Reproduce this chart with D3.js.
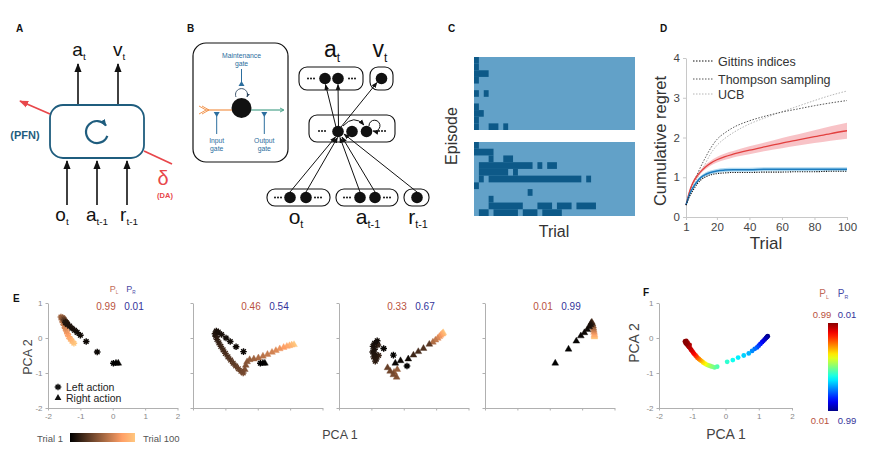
<!DOCTYPE html>
<html lang="en">
<head>
<meta charset="UTF-8" />
<title>Meta-RL figure</title>
<style>
  body { margin: 0; background: #fff; }
  svg { display: block; font-family: "Liberation Sans", Arial, sans-serif; }
</style>
</head>
<body>
<script src="https://d3js.org/d3.v7.min.js"></script>
<script>
// ---------- data ----------
// C: dark cells per episode row, as [first, last] trial runs
const trialCount = 33;
const episodesTop = [
  [[0, 0]], [[0, 0]], [[0, 2]], [[0, 0]], [], [[0, 0], [2, 2]], [],
  [[0, 0]], [[0, 1]], [[0, 0]], [[0, 0], [3, 4], [6, 6]]
];
const episodesBottom = [
  [[0, 0]], [[0, 3]], [[3, 3], [6, 7]], [[1, 11], [13, 13], [15, 16]],
  [[1, 6], [8, 8]], [[1, 1], [3, 21], [23, 23]], [[0, 0]], [[11, 11]],
  [[3, 3]], [[3, 9], [13, 15], [17, 19], [21, 24]], [[1, 2], [4, 8], [10, 12], [14, 17]]
];

// D: cumulative regret
const regretTrials = [1, 3, 5, 8, 10, 13, 16, 20, 25, 30, 40, 50, 60, 70, 80, 90, 100];
const gittins  = [0.3, 0.5, 0.65, 0.84, 0.93, 1.01, 1.06, 1.09, 1.11, 1.12, 1.12, 1.13, 1.13, 1.14, 1.14, 1.15, 1.15];
const thompson = [0.3, 0.6, 0.82, 1.08, 1.26, 1.5, 1.72, 1.95, 2.12, 2.25, 2.42, 2.54, 2.64, 2.72, 2.8, 2.87, 2.93];
const ucb      = [0.3, 0.55, 0.75, 0.98, 1.12, 1.35, 1.58, 1.8, 1.98, 2.12, 2.34, 2.5, 2.65, 2.79, 2.93, 3.06, 3.17];
const netRed   = [0.3, 0.62, 0.84, 1.04, 1.14, 1.26, 1.35, 1.44, 1.52, 1.58, 1.68, 1.77, 1.86, 1.94, 2.02, 2.1, 2.17];
const netRedSd = [0.01, 0.03, 0.04, 0.05, 0.05, 0.06, 0.06, 0.07, 0.08, 0.08, 0.1, 0.11, 0.13, 0.14, 0.16, 0.18, 0.2];
const netBlue  = [0.3, 0.55, 0.72, 0.9, 0.99, 1.07, 1.12, 1.16, 1.18, 1.19, 1.19, 1.2, 1.2, 1.2, 1.2, 1.2, 1.2];
const netBlueSd = [0.01, 0.02, 0.03, 0.04, 0.04, 0.05, 0.05, 0.05, 0.05, 0.05, 0.05, 0.05, 0.05, 0.05, 0.05, 0.05, 0.05];
const regretTicksX = [1, 20, 40, 60, 80, 100];
const regretTicksY = [0, 1, 2, 3, 4];

// E: [trial, PCA 1, PCA 2, action]
const pLeft = [0.99, 0.46, 0.33, 0.01];
const pRight = [0.01, 0.54, 0.67, 0.99];
const e1Points = [
  [1, 0.02, -0.72, "L"], [2, 0.1, -0.72, "R"], [3, 0.17, -0.72, "R"],
  [4, -0.48, -0.4, "L"], [5, -0.82, -0.1, "L"], [6, -1.0, 0.08, "L"],
  [7, -1.1, 0.16, "L"], [8, -1.18, 0.22, "L"], [9, -1.26, 0.28, "L"],
  [10, -1.33, 0.34, "L"], [11, -1.4, 0.39, "L"], [12, -1.46, 0.44, "L"],
  [15, -1.45, 0.45, "L"], [20, -1.42, 0.42, "L"], [25, -1.47, 0.48, "L"],
  [30, -1.5, 0.52, "L"], [35, -1.44, 0.44, "L"], [40, -1.52, 0.55, "L"],
  [45, -1.55, 0.58, "L"], [50, -1.6, 0.6, "L"], [55, -1.57, 0.52, "L"],
  [60, -1.54, 0.44, "L"], [65, -1.5, 0.36, "L"], [70, -1.47, 0.28, "L"],
  [75, -1.43, 0.2, "L"], [80, -1.4, 0.12, "L"], [85, -1.36, 0.04, "L"],
  [90, -1.31, -0.03, "L"], [95, -1.26, -0.09, "L"], [100, -1.2, -0.15, "L"]
];
const e2Points = [
  [1, 0.08, -0.72, "L"], [2, 0.16, -0.72, "R"], [3, 0.22, -0.72, "R"],
  [4, -0.44, -0.39, "L"], [5, -0.67, -0.25, "L"], [6, -0.85, -0.1, "L"],
  [7, -0.98, 0.0, "L"], [8, -1.12, 0.1, "L"], [9, -1.22, 0.17, "L"], [10, -1.28, 0.2, "L"],
  [12, -1.32, 0.12, "L"], [14, -1.3, 0.05, "L"], [16, -1.26, -0.04, "L"], [18, -1.2, -0.14, "L"],
  [20, -1.14, -0.24, "L"], [22, -1.07, -0.34, "L"], [24, -1.0, -0.44, "L"], [26, -0.92, -0.54, "L"],
  [28, -0.84, -0.63, "L"], [30, -0.76, -0.72, "L"], [32, -0.68, -0.8, "L"], [34, -0.6, -0.88, "L"],
  [36, -0.52, -0.95, "L"], [38, -0.45, -1.0, "L"],
  [40, -0.4, -0.9, "R"], [42, -0.37, -0.78, "R"], [44, -0.33, -0.68, "R"], [47, -0.25, -0.62, "R"],
  [50, -0.12, -0.6, "R"], [54, 0.02, -0.57, "R"], [58, 0.16, -0.52, "R"], [62, 0.3, -0.47, "R"],
  [66, 0.44, -0.41, "R"], [70, 0.56, -0.36, "R"], [75, 0.68, -0.31, "R"], [80, 0.8, -0.27, "R"],
  [85, 0.9, -0.24, "R"], [90, 0.98, -0.22, "R"], [95, 1.05, -0.2, "R"], [100, 1.12, -0.19, "R"]
];
const e3Points = [
  [1, 0.1, -0.8, "L"], [2, -0.32, -0.49, "L"], [3, -0.62, -0.3, "L"],
  [4, -0.26, -0.72, "R"], [5, -0.1, -0.65, "R"], [6, 0.14, -0.6, "R"],
  [7, -0.82, -0.08, "L"], [8, -0.9, -0.15, "L"], [9, -0.95, -0.24, "L"], [10, -0.9, -0.32, "L"],
  [11, -0.96, -0.4, "L"], [12, -0.88, -0.47, "L"], [13, -0.93, -0.54, "L"], [14, -0.85, -0.6, "L"],
  [15, -0.88, -0.66, "L"], [16, -0.8, -0.2, "L"], [18, -0.78, -0.5, "L"],
  [20, 0.3, -0.49, "R"], [23, 0.45, -0.39, "R"], [26, 0.61, -0.3, "R"], [29, 0.79, -0.18, "R"],
  [33, -0.5, -0.85, "R"], [36, -0.42, -0.95, "R"], [39, -0.32, -1.05, "R"], [42, -0.22, -1.12, "R"],
  [45, -0.3, -0.98, "R"], [48, -0.2, -0.9, "R"],
  [55, 0.9, -0.12, "R"], [62, 0.98, -0.06, "R"], [69, 1.05, -0.01, "R"], [76, 1.1, 0.04, "R"],
  [83, 1.14, 0.08, "R"], [90, 1.18, 0.11, "R"], [95, 1.2, 0.13, "R"], [100, 1.22, 0.15, "R"]
];
const e4Points = [
  [1, 0.17, -0.72, "R"], [2, 0.58, -0.32, "R"], [3, 0.82, -0.09, "R"], [4, 0.96, 0.06, "R"],
  [5, 1.07, 0.15, "R"], [6, 1.16, 0.24, "R"], [8, 1.22, 0.32, "R"], [10, 1.26, 0.38, "R"],
  [15, 1.28, 0.43, "R"], [25, 1.3, 0.45, "R"], [35, 1.32, 0.4, "R"], [45, 1.34, 0.34, "R"],
  [55, 1.35, 0.28, "R"], [65, 1.36, 0.22, "R"], [75, 1.37, 0.16, "R"], [85, 1.38, 0.1, "R"],
  [92, 1.38, 0.06, "R"], [100, 1.38, 0.03, "R"]
];
const ePanels = [e1Points, e2Points, e3Points, e4Points];

// F: [PCA 1, PCA 2, P_L]
const fPoints = [
  [-1.22, -0.1, 0.99], [-1.2, -0.14, 0.99], [-1.18, -0.08, 0.98], [-1.17, -0.18, 0.98],
  [-1.14, -0.13, 0.97], [-1.13, -0.22, 0.96], [-1.1, -0.26, 0.95], [-1.08, -0.2, 0.95],
  [-1.06, -0.3, 0.93], [-1.03, -0.34, 0.92], [-1.0, -0.38, 0.9], [-0.97, -0.42, 0.88],
  [-0.94, -0.46, 0.86], [-0.9, -0.5, 0.83], [-0.87, -0.53, 0.8], [-0.84, -0.57, 0.77],
  [-0.8, -0.6, 0.74], [-0.76, -0.63, 0.71], [-0.72, -0.66, 0.68], [-0.67, -0.7, 0.65],
  [-0.62, -0.73, 0.62], [-0.57, -0.76, 0.58], [-0.52, -0.78, 0.55], [-0.46, -0.8, 0.52],
  [-0.4, -0.82, 0.5], [-0.33, -0.84, 0.47], [-0.25, -0.82, 0.45],
  [0.05, -0.68, 0.42], [0.22, -0.63, 0.39], [0.38, -0.56, 0.36], [0.55, -0.5, 0.33],
  [0.7, -0.44, 0.3], [0.8, -0.37, 0.26], [0.88, -0.31, 0.23], [0.95, -0.27, 0.2],
  [1.0, -0.22, 0.17], [1.05, -0.17, 0.14], [1.1, -0.12, 0.11], [1.14, -0.08, 0.08],
  [1.18, -0.04, 0.06], [1.22, 0.0, 0.04], [1.25, 0.03, 0.02], [1.27, 0.05, 0.01]
];
const pcaTicksX = [-2, -1, 0, 1, 2];
const pcaTicksY = [-2, -1, 0, 1];

// ---------- setup ----------
const navy = "#1f5d7e";
const redC = "#e8474b";
const leftCol = "#b9523e", rightCol = "#34349a";

const svg = d3.select("body").append("svg").attr("width", 880).attr("height", 456);
const defs = svg.append("defs");

function arrowMarker(id, color, size) {
  defs.append("marker").attr("id", id)
    .attr("viewBox", "0 0 10 10").attr("refX", 9).attr("refY", 5)
    .attr("markerUnits", "userSpaceOnUse")
    .attr("markerWidth", size).attr("markerHeight", size)
    .attr("orient", "auto")
    .append("path").attr("d", "M0,1L10,5L0,9z").attr("fill", color);
}
arrowMarker("arrA", "#111", 9);
arrowMarker("arrRed", redC, 9);
arrowMarker("arrNavy", navy, 7);
arrowMarker("arrB", "#111", 6);
arrowMarker("arrSm", "#2c4660", 4);

function copper(t) {
  return d3.rgb(Math.min(255, 318.75 * t), 199.2 * t, 126.9 * t).formatHex();
}
const jet = d3.scaleLinear()
  .domain([0, 0.125, 0.25, 0.375, 0.5, 0.625, 0.75, 0.875, 1])
  .range(["#00007f", "#0000ff", "#007fff", "#00ffff", "#7fff7f", "#ffff00", "#ff7f00", "#ff0000", "#7f0000"]);

const copperGrad = defs.append("linearGradient").attr("id", "copperGrad");
d3.range(0, 1.0001, 0.1).forEach(t =>
  copperGrad.append("stop").attr("offset", t).attr("stop-color", copper(t)));
const jetGrad = defs.append("linearGradient").attr("id", "jetGrad")
  .attr("x1", 0).attr("y1", 0).attr("x2", 0).attr("y2", 1);
d3.range(0, 1.0001, 0.05).forEach(t =>
  jetGrad.append("stop").attr("offset", t).attr("stop-color", jet(0.99 - 0.98 * t)));

function panelLabel(x, y, s) {
  svg.append("text").attr("x", x).attr("y", y).attr("font-size", 10)
    .attr("font-weight", "bold").attr("fill", "#111").text(s);
}
function subLabel(g, x, y, main, sub, size, color) {
  const t = g.append("text").attr("x", x).attr("y", y).attr("text-anchor", "middle")
    .attr("font-size", size).attr("fill", color || "#111");
  t.append("tspan").text(main);
  t.append("tspan").attr("font-size", size * 0.52).attr("dy", size * 0.2).text(sub);
  return t;
}
function styleAxis(sel, color, size, textColor) {
  sel.attr("font-family", null).attr("font-size", size);
  sel.select(".domain").attr("stroke", color);
  sel.selectAll(".tick line").attr("stroke", color);
  sel.selectAll(".tick text").attr("fill", textColor);
}
const minusFmt = d => (d < 0 ? "-" + Math.abs(d) : String(d));

// ---------- A ----------
panelLabel(16, 32, "A");
const gA = svg.append("g");
gA.append("rect").attr("x", 50).attr("y", 105).attr("width", 94).attr("height", 53).attr("rx", 13)
  .attr("fill", "none").attr("stroke", navy).attr("stroke-width", 1.8);
// recurrence symbol
{
  const cx = 97, cy = 132, r = 11;
  const a0 = 20 * Math.PI / 180, a1 = -35 * Math.PI / 180;
  gA.append("path")
    .attr("d", `M${cx + r * Math.cos(a0)},${cy + r * Math.sin(a0)}A${r},${r} 0 1 1 ${cx + r * Math.cos(a1)},${cy + r * Math.sin(a1)}`)
    .attr("fill", "none").attr("stroke", navy).attr("stroke-width", 2.2)
    .attr("marker-end", "url(#arrNavy)");
}
[78, 118].forEach(x => gA.append("line").attr("x1", x).attr("y1", 104).attr("x2", x).attr("y2", 64)
  .attr("stroke", "#111").attr("stroke-width", 1.6).attr("marker-end", "url(#arrA)"));
[67, 97, 127].forEach(x => gA.append("line").attr("x1", x).attr("y1", 205).attr("x2", x).attr("y2", 161)
  .attr("stroke", "#111").attr("stroke-width", 1.6).attr("marker-end", "url(#arrA)"));
subLabel(gA, 79, 56, "a", "t", 19);
subLabel(gA, 119, 56, "v", "t", 19);
subLabel(gA, 62, 221, "o", "t", 19);
subLabel(gA, 97, 221, "a", "t-1", 19);
subLabel(gA, 129, 221, "r", "t-1", 19);
gA.append("line").attr("x1", 50).attr("y1", 114).attr("x2", 20).attr("y2", 101)
  .attr("stroke", redC).attr("stroke-width", 1.8).attr("marker-end", "url(#arrRed)");
gA.append("line").attr("x1", 144).attr("y1", 151).attr("x2", 172).attr("y2", 164)
  .attr("stroke", redC).attr("stroke-width", 1.8);
gA.append("text").attr("x", 25).attr("y", 139).attr("text-anchor", "middle").attr("font-size", 11)
  .attr("font-weight", "bold").attr("fill", navy).text("(PFN)");
gA.append("text").attr("x", 163).attr("y", 185).attr("text-anchor", "middle").attr("font-size", 20)
  .attr("fill", redC).text("δ");
gA.append("text").attr("x", 165).attr("y", 198).attr("text-anchor", "middle").attr("font-size", 7.5)
  .attr("font-weight", "bold").attr("fill", redC).text("(DA)");

// ---------- B ----------
panelLabel(187, 32, "B");
const gB = svg.append("g");
const gateBlue = "#2c6e9e";
gB.append("rect").attr("x", 193).attr("y", 43).attr("width", 95).attr("height", 119).attr("rx", 13)
  .attr("fill", "none").attr("stroke", "#111").attr("stroke-width", 1.2);
gB.append("line").attr("x1", 206).attr("y1", 110).attr("x2", 232).attr("y2", 110)
  .attr("stroke", "#f08a3c").attr("stroke-width", 1.1);
gB.append("path").attr("d", "M199,106L206,110L199,114M202,106L209,110L202,114")
  .attr("fill", "none").attr("stroke", "#f08a3c").attr("stroke-width", 0.9);
gB.append("line").attr("x1", 251).attr("y1", 110).attr("x2", 283).attr("y2", 110)
  .attr("stroke", "#3d9c82").attr("stroke-width", 1.1);
gB.append("path").attr("d", "M280,108L284,110L280,112").attr("fill", "none").attr("stroke", "#3d9c82").attr("stroke-width", 0.9);
gB.append("circle").attr("cx", 241.5).attr("cy", 108).attr("r", 10).attr("fill", "#111");
// maintenance gate and loop
gB.append("line").attr("x1", 241.5).attr("y1", 69).attr("x2", 241.5).attr("y2", 83).attr("stroke", gateBlue).attr("stroke-width", 1);
gB.append("path").attr("d", "M238.5,86L244.5,86L241.5,81z").attr("fill", gateBlue);
gB.append("path").attr("d", "M236,97A6,6 0 1 1 247,97").attr("fill", "none").attr("stroke", "#2c4660")
  .attr("stroke-width", 0.9).attr("marker-end", "url(#arrSm)");
// input / output gates
[[216.7, "Input"], [264.3, "Output"]].forEach(([x, s]) => {
  gB.append("line").attr("x1", x).attr("y1", 114).attr("x2", x).attr("y2", 134).attr("stroke", gateBlue).attr("stroke-width", 1);
  gB.append("path").attr("d", `M${x - 3},${112}L${x + 3},${112}L${x},${117}z`).attr("fill", gateBlue);
  gB.append("text").attr("x", x).attr("y", 143).attr("text-anchor", "middle").attr("font-size", 6.8).attr("fill", gateBlue).text(s);
  gB.append("text").attr("x", x).attr("y", 151).attr("text-anchor", "middle").attr("font-size", 6.8).attr("fill", gateBlue).text("gate");
});
gB.append("text").attr("x", 241.5).attr("y", 58).attr("text-anchor", "middle").attr("font-size", 6.8).attr("fill", gateBlue).text("Maintenance");
gB.append("text").attr("x", 241.5).attr("y", 66).attr("text-anchor", "middle").attr("font-size", 6.8).attr("fill", gateBlue).text("gate");

// network
const netBoxes = [
  [299, 67, 64, 23], [370, 67, 23, 23], [309, 115, 86, 27],
  [267, 189, 63, 17], [336, 189, 62, 17], [404, 189, 25, 17]
];
netBoxes.forEach(([x, y, w, h]) => gB.append("rect").attr("x", x).attr("y", y).attr("width", w).attr("height", h)
  .attr("rx", 8).attr("fill", "none").attr("stroke", "#111").attr("stroke-width", 1.1));
const netDots = [[311, 78.5], [352, 78.5], [322, 131], [382, 131], [278, 197.5], [318, 197.5], [347, 197.5], [387, 197.5]];
netDots.forEach(([x, y]) => [-3, 0, 3].forEach(dx => gB.append("circle").attr("cx", x + dx).attr("cy", y).attr("r", 1).attr("fill", "#111")));
const arrowLines = [
  [336, 127, 325.5, 84.5], [338.5, 127, 338, 84.5], [341, 127, 377, 82.5],
  [290, 192, 335.5, 137], [306, 192, 337.5, 137.5], [360, 192, 340, 137.5],
  [375, 192, 342, 137], [417, 192, 344, 134]
];
arrowLines.forEach(([x1, y1, x2, y2]) => gB.append("line").attr("x1", x1).attr("y1", y1).attr("x2", x2).attr("y2", y2)
  .attr("stroke", "#111").attr("stroke-width", 1).attr("marker-end", "url(#arrB)"));
gB.append("path").attr("d", "M343,126Q354,114 364,125").attr("fill", "none").attr("stroke", "#111")
  .attr("stroke-width", 1).attr("marker-end", "url(#arrB)");
gB.append("path").attr("d", "M369,126A5.5,5.5 0 1 1 373,131").attr("fill", "none").attr("stroke", "#111")
  .attr("stroke-width", 1).attr("marker-end", "url(#arrB)");
const netNodes = [[325, 78.5], [338, 78.5], [381.5, 78.5], [338, 131.5], [352, 131.5], [366.5, 131.5],
  [290, 197.5], [306, 197.5], [360, 197.5], [375, 197.5], [417, 197.5]];
netNodes.forEach(([x, y]) => gB.append("circle").attr("cx", x).attr("cy", y).attr("r", 5.8).attr("fill", "#111"));
subLabel(gB, 332, 57, "a", "t", 23);
subLabel(gB, 380, 57, "v", "t", 23);
subLabel(gB, 296, 224, "o", "t", 21);
subLabel(gB, 368, 224, "a", "t-1", 21);
subLabel(gB, 418, 224, "r", "t-1", 21);

// ---------- C ----------
panelLabel(448, 32, "C");
const gC = svg.append("g");
const xC = d3.scaleBand().domain(d3.range(trialCount)).range([474, 635]);
[[episodesTop, 57, 130], [episodesBottom, 142, 216]].forEach(([rows, y0, y1]) => {
  const yC = d3.scaleBand().domain(d3.range(rows.length)).range([y0, y1]);
  gC.append("rect").attr("x", xC.range()[0]).attr("y", y0)
    .attr("width", xC.range()[1] - xC.range()[0]).attr("height", y1 - y0).attr("fill", "#62a1c8");
  const cells = rows.flatMap((runs, r) => runs.map(([s, e]) => ({ r, s, e })));
  gC.append("g").selectAll("rect").data(cells).join("rect")
    .attr("x", d => xC(d.s)).attr("y", d => yC(d.r))
    .attr("width", d => xC(d.e) + xC.bandwidth() - xC(d.s))
    .attr("height", yC.bandwidth())
    .attr("fill", "#0d5988");
});
gC.append("text").attr("transform", "translate(457,136) rotate(-90)").attr("text-anchor", "middle")
  .attr("font-size", 16).attr("fill", "#333").text("Episode");
gC.append("text").attr("x", 554).attr("y", 237).attr("text-anchor", "middle")
  .attr("font-size", 16).attr("fill", "#333").text("Trial");

// ---------- D ----------
panelLabel(660, 32, "D");
const gD = svg.append("g");
const xD = d3.scaleLinear().domain([1, 100]).range([686, 847]);
const yD = d3.scaleLinear().domain([0, 4]).range([217, 58]);
const idxD = d3.range(regretTrials.length);
const lineD = ys => d3.line().x(i => xD(regretTrials[i])).y(i => yD(ys[i])).curve(d3.curveMonotoneX)(idxD);
const bandD = (ys, sd) => d3.area().x(i => xD(regretTrials[i]))
  .y0(i => yD(ys[i] - sd[i])).y1(i => yD(ys[i] + sd[i])).curve(d3.curveMonotoneX)(idxD);

const axDx = gD.append("g").attr("transform", "translate(0,217)")
  .call(d3.axisBottom(xD).tickValues(regretTicksX).tickSize(3).tickSizeOuter(0).tickFormat(d3.format("d")));
styleAxis(axDx, "#c8c8c8", 11.5, "#444");
const axDy = gD.append("g").attr("transform", "translate(686,0)")
  .call(d3.axisLeft(yD).tickValues(regretTicksY).tickSize(3).tickSizeOuter(0).tickFormat(d3.format("d")));
styleAxis(axDy, "#c8c8c8", 11.5, "#444");

gD.append("path").attr("d", bandD(netRed, netRedSd)).attr("fill", "#f7b9bd").attr("opacity", 0.85);
gD.append("path").attr("d", bandD(netBlue, netBlueSd)).attr("fill", "#a9d6f0").attr("opacity", 0.9);
gD.append("path").attr("d", lineD(ucb)).attr("fill", "none").attr("stroke", "#b5b5b5")
  .attr("stroke-width", 1).attr("stroke-dasharray", "1.5,1.5");
gD.append("path").attr("d", lineD(thompson)).attr("fill", "none").attr("stroke", "#555")
  .attr("stroke-width", 1).attr("stroke-dasharray", "1.5,1.5");
gD.append("path").attr("d", lineD(netRed)).attr("fill", "none").attr("stroke", "#e2403f").attr("stroke-width", 1.3);
gD.append("path").attr("d", lineD(netBlue)).attr("fill", "none").attr("stroke", "#1b7cc0").attr("stroke-width", 1.5);
gD.append("path").attr("d", lineD(gittins)).attr("fill", "none").attr("stroke", "#111")
  .attr("stroke-width", 1.1).attr("stroke-dasharray", "1.2,1.2");

const legendD = [["Gittins indices", "#111", 61], ["Thompson sampling", "#555", 79], ["UCB", "#b5b5b5", 94]];
legendD.forEach(([s, c, y]) => {
  gD.append("line").attr("x1", 693).attr("x2", 713).attr("y1", y).attr("y2", y)
    .attr("stroke", c).attr("stroke-width", 1).attr("stroke-dasharray", "1.5,1.5");
  gD.append("text").attr("x", 718).attr("y", y + 4.5).attr("font-size", 12.5).attr("fill", "#333").text(s);
});
gD.append("text").attr("transform", "translate(666,141) rotate(-90)").attr("text-anchor", "middle")
  .attr("font-size", 16.5).attr("fill", "#333").text("Cumulative regret");
gD.append("text").attr("x", 766).attr("y", 249).attr("text-anchor", "middle")
  .attr("font-size", 17).attr("fill", "#333").text("Trial");

// ---------- E ----------
panelLabel(13, 302, "E");
const gE = svg.append("g");
const eX0 = [48, 193, 339, 485];
const yE = d3.scaleLinear().domain([-2, 1]).range([408, 303]);
function starPath(r) {
  let p = "";
  for (let k = 0; k < 4; k++) {
    const a = k * Math.PI / 4;
    p += `M${(-r * Math.cos(a)).toFixed(2)},${(-r * Math.sin(a)).toFixed(2)}L${(r * Math.cos(a)).toFixed(2)},${(r * Math.sin(a)).toFixed(2)}`;
  }
  return p;
}
const starD = starPath(3.3);
const triD = d3.symbol().type(d3.symbolTriangle).size(20)();

ePanels.forEach((pts, i) => {
  const g = gE.append("g");
  const xE = d3.scaleLinear().domain([-2, 2]).range([eX0[i], eX0[i] + 129.5]);
  const ax = g.append("g").attr("transform", "translate(0,408)")
    .call(d3.axisBottom(xE).tickValues(pcaTicksX).tickSize(2.5).tickSizeOuter(0)
      .tickFormat(i === 0 ? minusFmt : () => ""));
  styleAxis(ax, "#b0b0b0", 8, "#888");
  const ay = g.append("g").attr("transform", `translate(${eX0[i]},0)`)
    .call(d3.axisLeft(yE).tickValues(pcaTicksY).tickSize(2.5).tickSizeOuter(0)
      .tickFormat(i === 0 ? minusFmt : () => ""));
  styleAxis(ay, "#b0b0b0", 8, "#888");

  const sorted = pts.slice().sort((a, b) => b[0] - a[0]); // early trials drawn on top
  g.append("g").selectAll("path").data(sorted).join("path")
    .attr("d", d => (d[3] === "L" ? starD : triD))
    .attr("transform", d => `translate(${xE(d[1])},${yE(d[2])})`)
    .attr("fill", d => (d[3] === "L" ? "none" : copper((d[0] - 1) / 99)))
    .attr("stroke", d => copper((d[0] - 1) / 99))
    .attr("stroke-width", d => (d[3] === "L" ? 1.4 : 0.4));

  g.append("text").attr("x", eX0[i] + 58).attr("y", 309.5).attr("text-anchor", "middle")
    .attr("font-size", 10).attr("fill", leftCol).text(pLeft[i].toFixed(2));
  g.append("text").attr("x", eX0[i] + 86).attr("y", 309.5).attr("text-anchor", "middle")
    .attr("font-size", 10).attr("fill", rightCol).text(pRight[i].toFixed(2));
});
subLabel(gE, 114, 292, "P", "L", 9, "#c26a58");
subLabel(gE, 131, 292, "P", "R", 9, "#4a4aa6");
// action legend
gE.append("path").attr("d", starD).attr("transform", "translate(58,387)").attr("stroke", "#111").attr("stroke-width", 1.4);
gE.append("text").attr("x", 66).attr("y", 390.5).attr("font-size", 10.5).attr("fill", "#222").text("Left action");
gE.append("path").attr("d", triD).attr("transform", "translate(58,398)").attr("fill", "#111");
gE.append("text").attr("x", 66).attr("y", 402).attr("font-size", 10.5).attr("fill", "#222").text("Right action");
// trial colour bar
gE.append("rect").attr("x", 70).attr("y", 433).attr("width", 65).attr("height", 9).attr("fill", "url(#copperGrad)");
gE.append("text").attr("x", 63).attr("y", 441.5).attr("text-anchor", "end").attr("font-size", 9.5).attr("fill", "#555").text("Trial 1");
gE.append("text").attr("x", 143).attr("y", 441.5).attr("font-size", 9.5).attr("fill", "#555").text("Trial 100");
gE.append("text").attr("transform", "translate(32,357) rotate(-90)").attr("text-anchor", "middle")
  .attr("font-size", 12.5).attr("fill", "#444").text("PCA 2");
gE.append("text").attr("x", 340).attr("y", 439).attr("text-anchor", "middle")
  .attr("font-size", 12.5).attr("fill", "#444").text("PCA 1");

// ---------- F ----------
panelLabel(643, 296, "F");
const gF = svg.append("g");
const xF = d3.scaleLinear().domain([-2, 2]).range([659, 792]);
const axFx = gF.append("g").attr("transform", "translate(0,408)")
  .call(d3.axisBottom(xF).tickValues(pcaTicksX).tickSize(2.5).tickSizeOuter(0).tickFormat(minusFmt));
styleAxis(axFx, "#b0b0b0", 8, "#888");
const axFy = gF.append("g").attr("transform", "translate(659,0)")
  .call(d3.axisLeft(yE).tickValues(pcaTicksY).tickSize(2.5).tickSizeOuter(0).tickFormat(minusFmt));
styleAxis(axFy, "#b0b0b0", 8, "#888");
gF.append("g").selectAll("circle").data(fPoints.slice().sort((a, b) => a[2] - b[2])).join("circle")
  .attr("cx", d => xF(d[0])).attr("cy", d => yE(d[1])).attr("r", 2.4)
  .attr("fill", d => jet(d[2]));
gF.append("text").attr("transform", "translate(639,343) rotate(-90)").attr("text-anchor", "middle")
  .attr("font-size", 14).attr("fill", "#444").text("PCA 2");
gF.append("text").attr("x", 726).attr("y", 439).attr("text-anchor", "middle")
  .attr("font-size", 14).attr("fill", "#444").text("PCA 1");
gF.append("rect").attr("x", 828).attr("y", 323).attr("width", 10).attr("height", 88).attr("fill", "url(#jetGrad)");
subLabel(gF, 824, 297, "P", "L", 10, "#c26a58");
subLabel(gF, 843, 297, "P", "R", 10, "#4a4aa6");
gF.append("text").attr("x", 822).attr("y", 317.5).attr("text-anchor", "middle").attr("font-size", 9.5).attr("fill", leftCol).text("0.99");
gF.append("text").attr("x", 847).attr("y", 317.5).attr("text-anchor", "middle").attr("font-size", 9.5).attr("fill", rightCol).text("0.01");
gF.append("text").attr("x", 820).attr("y", 423.5).attr("text-anchor", "middle").attr("font-size", 9.5).attr("fill", leftCol).text("0.01");
gF.append("text").attr("x", 847).attr("y", 423.5).attr("text-anchor", "middle").attr("font-size", 9.5).attr("fill", rightCol).text("0.99");
</script>
</body>
</html>
